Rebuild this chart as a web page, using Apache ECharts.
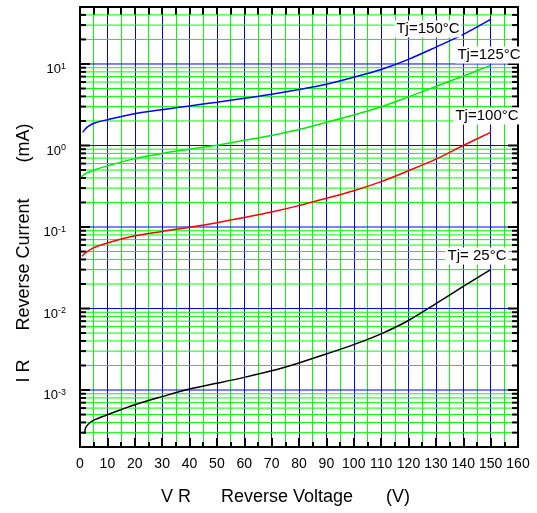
<!DOCTYPE html>
<html><head><meta charset="utf-8">
<script src="https://cdn.jsdelivr.net/npm/echarts@6/dist/echarts.min.js"></script>
<style>html,body{margin:0;padding:0;background:#fff}#c{width:537px;height:513px}</style>
</head><body><div id="c"></div>
<script>
const FONT = '"Liberation Sans", Arial, sans-serif';

// Axis ranges / ticks
const X_MIN = 0, X_MAX = 160, X_STEP = 10;
const Y_MIN = 2e-4, Y_MAX = 50;

// Tj = 150 °C
const v150 = [1, 2, 3, 5.4, 10, 20, 30, 40, 50, 60, 70, 80, 90, 100, 110, 120, 130, 140, 150];
const i150 = [1.45, 1.6, 1.72, 1.89, 2.07, 2.45, 2.75, 3.06, 3.39, 3.79, 4.25, 4.85, 5.64, 6.87, 8.56, 11.4, 16.1, 23.1, 35.3];
// Tj = 125 °C
const v125 = [0.5, 1, 2, 3, 5.4, 10, 20, 30, 40, 50, 60, 70, 80, 90, 100, 110, 120, 130, 140, 150];
const i125 = [0.41, 0.43, 0.45, 0.468, 0.505, 0.562, 0.69, 0.80, 0.90, 1.01, 1.16, 1.33, 1.57, 1.92, 2.36, 2.98, 3.95, 5.3, 7.1, 9.6];
// Tj = 100 °C
const v100 = [0.7, 2, 3, 5.4, 10, 20, 30, 40, 50, 60, 70, 80, 90, 100, 110, 120, 130, 140, 150];
const i100 = [0.0438, 0.048, 0.051, 0.0565, 0.0638, 0.078, 0.0883, 0.099, 0.113, 0.131, 0.153, 0.183, 0.225, 0.279, 0.36, 0.49, 0.68, 1.0, 1.45];
// Tj = 25 °C
const v25 = [1.7, 2.0, 3, 5, 10, 20, 30, 40, 50, 60, 70, 80, 90, 100, 110, 120, 130, 140, 150];
const i25 = [0.00029, 0.00034, 0.00038, 0.000427, 0.000497, 0.00066, 0.00083, 0.00103, 0.00121, 0.00143, 0.00172, 0.00215, 0.00277, 0.00361, 0.00489, 0.00713, 0.01145, 0.0187, 0.030];

const curveNames = ['Tj=150°C', 'Tj=125°C', 'Tj=100°C', 'Tj= 25°C'];
const curveColors = ['#0000ff', '#00ee00', '#ff0000', '#000000'];

// log gridline values: decades and 2..9 x 10^n inside the range
const yMajor = [];
const yMinor = [];
for (let n = -4; n <= 1; n++) {
  const d = +Math.pow(10, n).toPrecision(6);
  if (d > Y_MIN * 1.0001 && d < Y_MAX * 0.9999) yMajor.push(d);
  for (let k = 2; k <= 9; k++) {
    const v = +(k * Math.pow(10, n)).toPrecision(6);
    if (v > Y_MIN * 1.0001 && v < Y_MAX * 0.9999) yMinor.push(v);
  }
}

function zip(a, b) { return a.map((x, i) => [x, b[i]]); }
const curves = [zip(v150, i150), zip(v125, i125), zip(v100, i100), zip(v25, i25)];

const chart = echarts.init(document.getElementById('c'), null, {renderer: 'canvas'});

function yLabel(v) {
  const l = Math.log10(v);
  const e = Math.round(l);
  if (Math.abs(l - e) > 1e-6) return '';
  return '{b|10}{s|' + e + '}';
}

function gridSeries(values, color, tickLen, z) {
  return {
    type: 'custom', xAxisIndex: 0, yAxisIndex: 0, silent: true, z: z, clip: false,
    data: values.map(v => [X_MIN, v]),
    renderItem: function (params, api) {
      const v = api.value(1);
      const p1 = api.coord([X_MIN, v]);
      const p2 = api.coord([X_MAX, v]);
      const y = p1[1];
      return {
        type: 'group',
        children: [
          {type: 'line', shape: {x1: p1[0], y1: y, x2: p2[0], y2: y}, style: {stroke: color, lineWidth: 1}},
          {type: 'line', z2: 5, shape: {x1: p1[0], y1: y, x2: p1[0] + tickLen, y2: y}, style: {stroke: '#000', lineWidth: 2}},
          {type: 'line', z2: 5, shape: {x1: p2[0] - tickLen, y1: y, x2: p2[0], y2: y}, style: {stroke: '#000', lineWidth: 2}}
        ]
      };
    }
  };
}

const option = {
  backgroundColor: '#ffffff',
  animation: false,
  grid: {left: 80, top: 7, width: 438, height: 440, show: false},
  xAxis: [
    {
      type: 'value', position: 'bottom', min: X_MIN, max: X_MAX, interval: X_STEP,
      axisLine: {show: true, onZero: false, lineStyle: {color: '#000', width: 2}},
      axisTick: {show: true, inside: true, length: 9, lineStyle: {color: '#000', width: 2}},
      minorTick: {show: true, splitNumber: 2, length: 5, lineStyle: {color: '#000', width: 2}},
      axisLabel: {color: '#000', fontSize: 14, fontFamily: FONT, margin: 10, hideOverlap: false},
      splitLine: {show: true, lineStyle: {color: '#0000ff', width: 1}},
      minorSplitLine: {show: true, lineStyle: {color: '#00ff00', width: 1}}
    },
    {
      type: 'value', position: 'top', min: X_MIN, max: X_MAX, interval: X_STEP,
      axisLine: {show: true, onZero: false, lineStyle: {color: '#000', width: 2}},
      axisTick: {show: true, inside: true, length: 8, lineStyle: {color: '#000', width: 2}},
      minorTick: {show: true, splitNumber: 2, length: 8, lineStyle: {color: '#000', width: 2}},
      axisLabel: {show: false},
      splitLine: {show: false},
      minorSplitLine: {show: false}
    }
  ],
  yAxis: [
    {
      type: 'log', logBase: 10, min: Y_MIN, max: Y_MAX, position: 'left',
      axisLine: {show: true, onZero: false, lineStyle: {color: '#000', width: 2}},
      axisTick: {show: false},
      minorTick: {show: false},
      axisLabel: {
        show: true, margin: 14, formatter: yLabel, padding: [10, 0, 0, 0],
        showMinLabel: true, showMaxLabel: true, hideOverlap: false,
        rich: {
          b: {fontSize: 13, fontFamily: FONT, color: '#000', lineHeight: 14, verticalAlign: 'bottom'},
          s: {fontSize: 9, fontFamily: FONT, color: '#000', lineHeight: 10, verticalAlign: 'top', padding: [0, 0, 11, 0]}
        }
      },
      splitLine: {show: false},
      minorSplitLine: {show: false}
    },
    {
      type: 'log', logBase: 10, min: Y_MIN, max: Y_MAX, position: 'right',
      axisLine: {show: true, onZero: false, lineStyle: {color: '#000', width: 2}},
      axisTick: {show: false},
      minorTick: {show: false},
      axisLabel: {show: false},
      splitLine: {show: false},
      minorSplitLine: {show: false}
    }
  ],
  series: [
    gridSeries(yMinor, '#00ff00', 6, 1),
    gridSeries(yMajor, '#0000ff', 10, 1.5)
  ].concat(curves.map((d, i) => ({
    type: 'line', name: curveNames[i], data: d, xAxisIndex: 0, yAxisIndex: 0,
    showSymbol: false, smooth: 0.3, z: 3,
    lineStyle: {color: curveColors[i], width: 1.5}
  }))),
  graphic: [
    {type: 'text', z: 100, x: 24, y: 371, rotation: Math.PI / 2, style: {text: 'I R', font: '18px ' + FONT, fill: '#000', align: 'center', verticalAlign: 'middle'}},
    {type: 'text', z: 100, x: 24, y: 264.5, rotation: Math.PI / 2, style: {text: 'Reverse Current', font: '18px ' + FONT, fill: '#000', align: 'center', verticalAlign: 'middle'}},
    {type: 'text', z: 100, x: 24, y: 143, rotation: Math.PI / 2, style: {text: '(mA)', font: '18px ' + FONT, fill: '#000', align: 'center', verticalAlign: 'middle'}},
    {type: 'text', z: 100, x: 176, y: 497, style: {text: 'V R', font: '18px ' + FONT, fill: '#000', align: 'center', verticalAlign: 'middle'}},
    {type: 'text', z: 100, x: 287, y: 497, style: {text: 'Reverse Voltage', font: '18px ' + FONT, fill: '#000', align: 'center', verticalAlign: 'middle'}},
    {type: 'text', z: 100, x: 398, y: 497, style: {text: '(V)', font: '18px ' + FONT, fill: '#000', align: 'center', verticalAlign: 'middle'}},
    {type: 'text', z: 100, x: 428, y: 29, style: {text: curveNames[0], font: '15px ' + FONT, fill: '#000', align: 'center', verticalAlign: 'middle', backgroundColor: '#fff', padding: [1, 2, 1, 2]}},
    {type: 'text', z: 100, x: 489, y: 55, style: {text: curveNames[1], font: '15px ' + FONT, fill: '#000', align: 'center', verticalAlign: 'middle', backgroundColor: '#fff', padding: [1, 2, 1, 2]}},
    {type: 'text', z: 100, x: 487, y: 116, style: {text: curveNames[2], font: '15px ' + FONT, fill: '#000', align: 'center', verticalAlign: 'middle', backgroundColor: '#fff', padding: [1, 2, 1, 2]}},
    {type: 'text', z: 100, x: 477, y: 256, style: {text: curveNames[3], font: '15px ' + FONT, fill: '#000', align: 'center', verticalAlign: 'middle', backgroundColor: '#fff', padding: [1, 2, 1, 2]}}
  ]
};
chart.setOption(option);
</script>
</body></html>
